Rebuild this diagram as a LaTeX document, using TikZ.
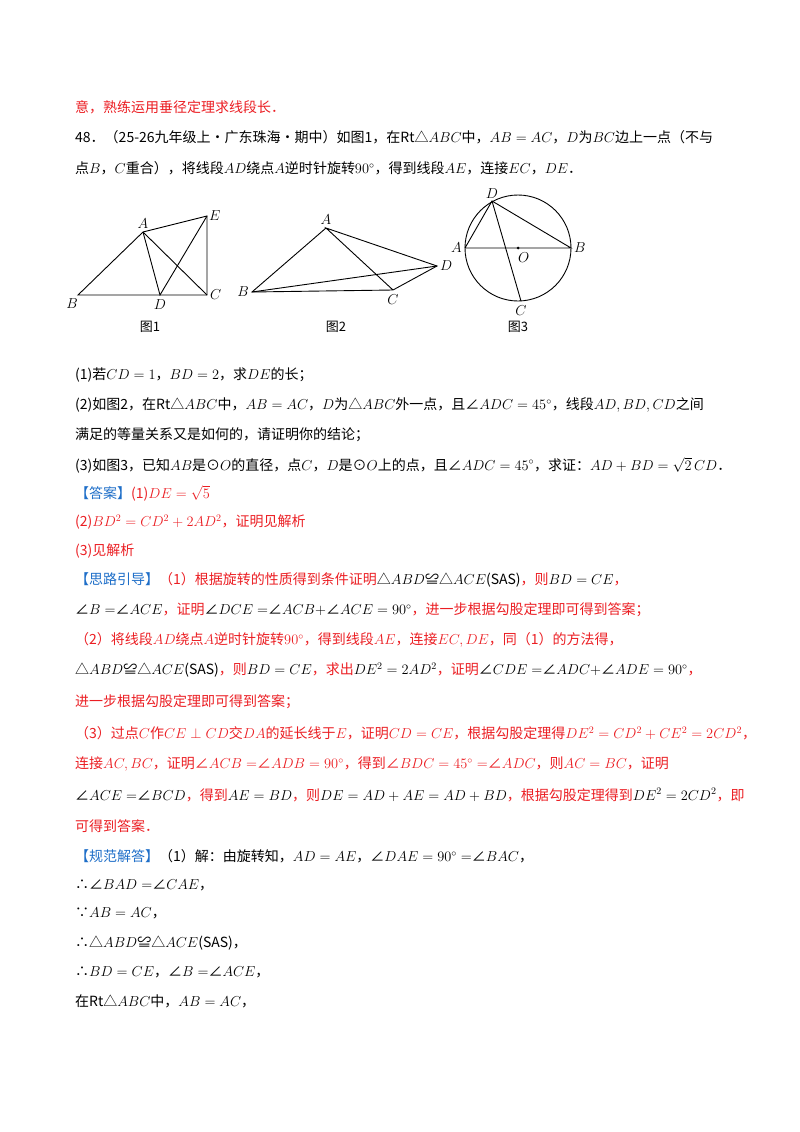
\documentclass[tikz,border=0pt]{standalone}
\usepackage{fontspec}
\setmainfont{Noto Sans CJK SC}
\usetikzlibrary{positioning}
\definecolor{ansred}{RGB}{235,30,35}
\definecolor{ansblue}{RGB}{30,110,200}
\newcommand{\rd}[1]{\textcolor{ansred}{#1}}
\newcommand{\bl}[1]{\textcolor{ansblue}{#1}}
\tikzset{
  txt/.style={anchor=west, inner sep=0pt, font=\fontsize{14}{16}\selectfont},
  pt/.style={inner sep=0pt, font=\fontsize{15}{17}\selectfont},
  figcap/.style={inner sep=0pt, font=\fontsize{13}{15}\selectfont},
  seg/.style={line width=0.9pt}
}
\begin{document}
\begin{tikzpicture}[x=1pt,y=-1pt]
    \useasboundingbox (0,0) rectangle (800,1132);

    % question text
    \node[txt, text=ansred] (l1) at (75,107) {意，熟练运用垂径定理求线段长．};
    \node[txt] (l2) at (75,137) {48．（25-26九年级上•广东珠海•期中）如图1，在Rt△$ABC$中，$AB=AC$，$D$为$BC$边上一点（不与};
    \node[txt] (l3) at (75,168) {点$B$，$C$重合），将线段$AD$绕点$A$逆时针旋转$90^\circ$，得到线段$AE$，连接$EC$，$DE$．};

    % figure 1
    \coordinate (B1) at (78,295);
    \coordinate (D1) at (160,295);
    \coordinate (C1) at (207,295);
    \coordinate (A1) at (143,232);
    \coordinate (E1) at (207,216);
    \draw[seg] (B1) -- (C1) -- (E1) -- (A1) -- cycle;
    \draw[seg] (A1) -- (D1) -- (E1);
    \draw[seg] (A1) -- (C1);
    \node[pt, above=3pt of A1] (lA1) {$A$};
    \node[pt, right=2pt of E1] (lE1) {$E$};
    \node[pt, below left=3pt and 0pt of B1] (lB1) {$B$};
    \node[pt, below=4pt of D1] (lD1) {$D$};
    \node[pt, right=3pt of C1] (lC1) {$C$};
    \node[figcap] (f1) at (150,327) {图1};

    % figure 2
    \coordinate (A2) at (326,228);
    \coordinate (B2) at (252,292);
    \coordinate (C2) at (393,290);
    \coordinate (D2) at (437,266);
    \draw[seg] (A2) -- (B2) -- (C2) -- (D2) -- (A2) -- (C2);
    \draw[seg] (B2) -- (D2);
    \node[pt, above=3pt of A2] (lA2) {$A$};
    \node[pt, left=3pt of B2] (lB2) {$B$};
    \node[pt, below=4pt of C2] (lC2) {$C$};
    \node[pt, right=3pt of D2] (lD2) {$D$};
    \node[figcap] (f2) at (336,327) {图2};

    % figure 3
    \coordinate (O3) at (518,248);
    \draw[seg] (O3) circle (53);
    \coordinate (A3) at (465,248);
    \coordinate (B3) at (571,248);
    \coordinate (D3) at (492,201);
    \coordinate (C3) at (521,301);
    \draw[seg] (A3) -- (B3) -- (D3) -- (A3);
    \draw[seg] (D3) -- (C3);
    \fill (O3) circle (1.5);
    \node[pt, above=2pt of D3] (lD3) {$D$};
    \node[pt, left=3pt of A3] (lA3) {$A$};
    \node[pt, right=3pt of B3] (lB3) {$B$};
    \node[pt, below right=4pt and 0pt of O3] (lO3) {$O$};
    \node[pt, below=4pt of C3] (lC3) {$C$};
    \node[figcap] (f3) at (518,327) {图3};

    % sub-questions
    \node[txt] (l4) at (75,375) {(1)若$CD=1$，$BD=2$，求$DE$的长；};
    \node[txt] (l5) at (75,405) {(2)如图2，在Rt△$ABC$中，$AB=AC$，$D$为△$ABC$外一点，且∠$ADC=45^\circ$，线段$AD,BD,CD$之间};
    \node[txt] (l6) at (75,435) {满足的等量关系又是如何的，请证明你的结论；};
    \node[txt] (l7) at (75,465) {(3)如图3，已知$AB$是⊙$O$的直径，点$C$，$D$是⊙$O$上的点，且∠$ADC=45^\circ$，求证：$AD+BD=\sqrt{2}\,CD$．};

    % answer
    \node[txt] (l8) at (75,493) {\bl{【答案】}\rd{(1)$DE=\sqrt{5}$}};
    \node[txt, text=ansred] (l9) at (75,522) {(2)$BD^2=CD^2+2AD^2$，证明见解析};
    \node[txt, text=ansred] (l10) at (75,551) {(3)见解析};

    % hints
    \node[txt] (l11) at (75,580) {\bl{【思路引导】}\rd{（1）根据旋转的性质得到条件证明}△$ABD$≌△$ACE$(SAS)\rd{，则}$BD=CE$\rd{，}};
    \node[txt] (l12) at (75,610) {∠$B=$∠$ACE$\rd{，证明}∠$DCE=$∠$ACB+$∠$ACE=90^\circ$\rd{，进一步根据勾股定理即可得到答案；}};
    \node[txt] (l13) at (75,640) {\rd{（2）将线段$AD$绕点$A$逆时针旋转$90^\circ$，得到线段$AE$，连接$EC,DE$，同（1）的方法得，}};
    \node[txt] (l14) at (75,670) {△$ABD$≌△$ACE$(SAS)\rd{，则}$BD=CE$\rd{，求出}$DE^2=2AD^2$\rd{，证明}∠$CDE=$∠$ADC+$∠$ADE=90^\circ$\rd{，}};
    \node[txt, text=ansred] (l15) at (75,702) {进一步根据勾股定理即可得到答案；};
    \node[txt, text=ansred] (l16) at (75,733) {（3）过点$C$作$CE\perp CD$交$DA$的延长线于$E$，证明$CD=CE$，根据勾股定理得$DE^2=CD^2+CE^2=2CD^2$，};
    \node[txt, text=ansred] (l17) at (75,764) {连接$AC,BC$，证明∠$ACB=$∠$ADB=90^\circ$，得到∠$BDC=45^\circ=$∠$ADC$，则$AC=BC$，证明};
    \node[txt] (l18) at (75,795) {∠$ACE=$∠$BCD$\rd{，得到}$AE=BD$\rd{，则}$DE=AD+AE=AD+BD$\rd{，根据勾股定理得到}$DE^2=2CD^2$\rd{，即}};
    \node[txt, text=ansred] (l19) at (75,826) {可得到答案．};

    % solution
    \node[txt] (l20) at (75,856) {\bl{【规范解答】}（1）解：由旋转知，$AD=AE$，∠$DAE=90^\circ=$∠$BAC$，};
    \node[txt] (l21) at (75,885) {∴∠$BAD=$∠$CAE$，};
    \node[txt] (l22) at (75,913) {∵$AB=AC$，};
    \node[txt] (l23) at (75,943) {∴△$ABD$≌△$ACE$(SAS)，};
    \node[txt] (l24) at (75,972) {∴$BD=CE$，∠$B=$∠$ACE$，};
    \node[txt] (l25) at (75,1001) {在Rt△$ABC$中，$AB=AC$，};
\end{tikzpicture}
\end{document}
